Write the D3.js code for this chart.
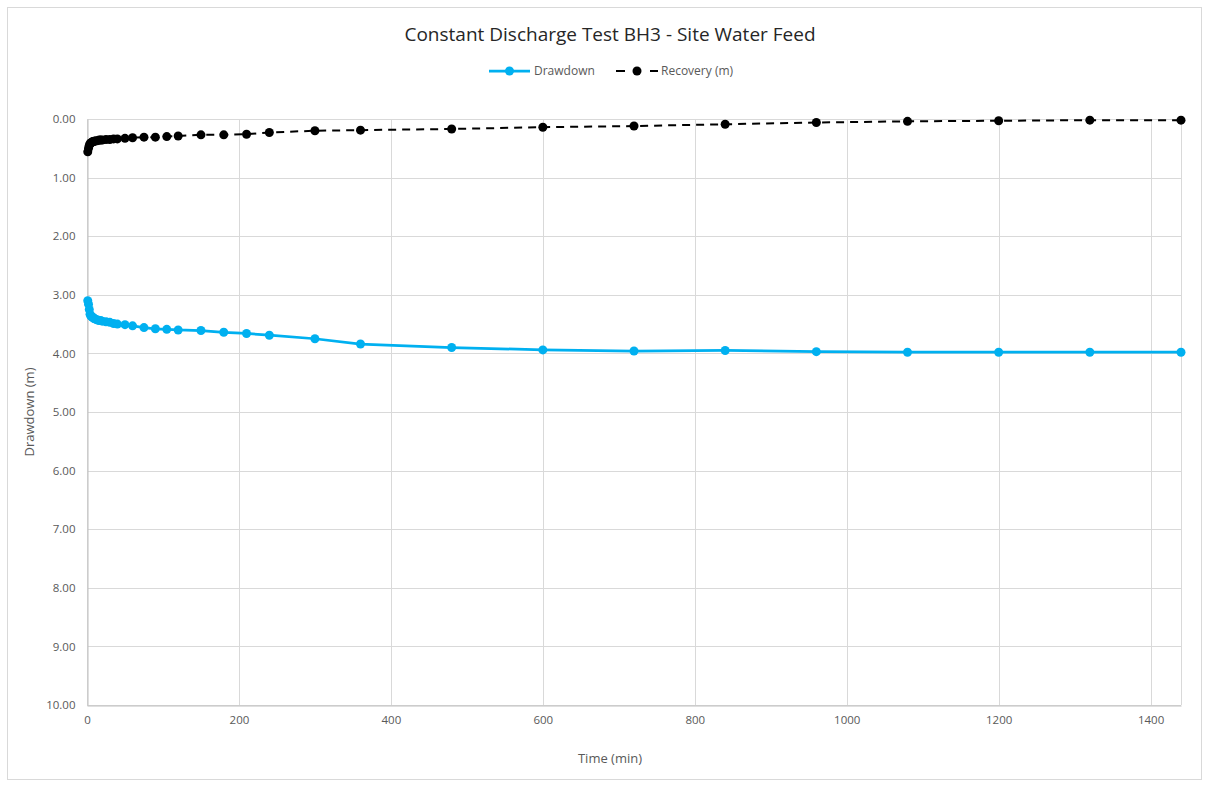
<!DOCTYPE html>
<html>
<head>
<meta charset="utf-8">
<script src="https://cdn.jsdelivr.net/npm/d3@7"></script>
<style>
  html, body { margin: 0; padding: 0; background: #fff; }
  svg { display: block; }
  text { font-family: "Open Sans", "Noto Sans", "Liberation Sans", sans-serif; }
</style>
</head>
<body>
<svg id="chart" width="1207" height="785"></svg>
<script>
// ---- data ----
const drawdownTime = [1, 2, 3, 4, 5, 6, 7, 8, 9, 10, 12, 14, 16, 18, 20, 25, 30, 35, 40, 50, 60, 75, 90, 105, 120, 150, 180, 210, 240, 300, 360, 480, 600, 720, 840, 960, 1080, 1200, 1320, 1440];
const drawdownValues = [3.10, 3.16, 3.25, 3.33, 3.36, 3.37, 3.38, 3.39, 3.40, 3.41, 3.42, 3.43, 3.44, 3.44, 3.45, 3.46, 3.47, 3.49, 3.50, 3.51, 3.53, 3.56, 3.58, 3.59, 3.60, 3.61, 3.64, 3.66, 3.69, 3.75, 3.84, 3.90, 3.94, 3.96, 3.95, 3.97, 3.98, 3.98, 3.98, 3.98];
const recoveryTime = [1, 2, 3, 4, 5, 6, 7, 8, 9, 10, 12, 14, 16, 18, 20, 25, 30, 35, 40, 50, 60, 75, 90, 105, 120, 150, 180, 210, 240, 300, 360, 480, 600, 720, 840, 960, 1080, 1200, 1320, 1440];
const recoveryValues = [0.56, 0.50, 0.45, 0.42, 0.41, 0.40, 0.39, 0.39, 0.38, 0.38, 0.37, 0.37, 0.36, 0.36, 0.36, 0.35, 0.35, 0.34, 0.34, 0.33, 0.32, 0.31, 0.31, 0.30, 0.29, 0.27, 0.27, 0.26, 0.23, 0.20, 0.19, 0.17, 0.14, 0.12, 0.09, 0.06, 0.04, 0.03, 0.02, 0.02];
const xTicks = [0, 200, 400, 600, 800, 1000, 1200, 1400];
const yTicks = [0, 1, 2, 3, 4, 5, 6, 7, 8, 9, 10];
const seriesNames = ["Drawdown", "Recovery (m)"];
const titleText = "Constant Discharge Test BH3 - Site Water Feed";
const xLabel = "Time (min)";
const yLabel = "Drawdown (m)";

// ---- layout ----
const svg = d3.select("#chart");
const W = 1207, H = 785;
const m = { left: 87, right: 1181, top: 119, bottom: 705 };
const blue = "#00B0F0";
const grid = "#d9d9d9";
const textCol = "#595959";

svg.append("rect").attr("x", 7.5).attr("y", 7.5).attr("width", W - 13).attr("height", H - 13)
  .attr("fill", "#fff").attr("stroke", grid).attr("stroke-width", 1);

const x = d3.scaleLinear().domain([0, 1440]).range([m.left, m.right]);
const y = d3.scaleLinear().domain([0, 10]).range([m.top, m.bottom]);

// gridlines
const g = svg.append("g");
g.selectAll(".hg").data(yTicks).enter().append("line")
  .attr("x1", m.left).attr("x2", m.right)
  .attr("y1", d => Math.round(y(d)) + 0.5).attr("y2", d => Math.round(y(d)) + 0.5)
  .attr("stroke", grid).attr("stroke-width", 1);
g.selectAll(".vg").data(xTicks.concat([1440])).enter().append("line")
  .attr("y1", m.top).attr("y2", m.bottom)
  .attr("x1", d => Math.round(x(d)) + 0.5).attr("x2", d => Math.round(x(d)) + 0.5)
  .attr("stroke", grid).attr("stroke-width", 1);

// axes
const xAxis = d3.axisBottom(x).tickValues(xTicks).tickSize(0).tickPadding(10).tickFormat(d3.format("d"));
const yAxis = d3.axisLeft(y).tickValues(yTicks).tickSize(0).tickPadding(12).tickFormat(d3.format(".2f"));
const gx = svg.append("g").attr("transform", `translate(0,${Math.round(y(10)) + 0.5})`).call(xAxis);
const gy = svg.append("g").attr("transform", `translate(${Math.round(x(0)) + 0.5},0)`).call(yAxis);
[gx, gy].forEach(a => {
  a.select(".domain").attr("stroke", "#bfbfbf").attr("stroke-width", 1);
  a.selectAll("text").attr("fill", textCol).style("font-size", "11.5px");
});

// lines
const ddData = drawdownTime.map((t, i) => [t, drawdownValues[i]]);
const rcData = recoveryTime.map((t, i) => [t, recoveryValues[i]]);
const line = d3.line().x(d => x(d[0])).y(d => y(d[1]));

svg.append("path").datum(ddData).attr("d", line).attr("fill", "none")
  .attr("stroke", blue).attr("stroke-width", 2.75).attr("stroke-linejoin", "round");
svg.append("g").selectAll("circle").data(ddData).enter().append("circle")
  .attr("cx", d => x(d[0])).attr("cy", d => y(d[1])).attr("r", 4.5).attr("fill", blue);

svg.append("path").datum(rcData).attr("d", line).attr("fill", "none")
  .attr("stroke", "#000").attr("stroke-width", 2).attr("stroke-dasharray", "8,6");
svg.append("g").selectAll("circle").data(rcData).enter().append("circle")
  .attr("cx", d => x(d[0])).attr("cy", d => y(d[1])).attr("r", 4.5).attr("fill", "#000");

// title
svg.append("text").attr("x", 610).attr("y", 41).attr("text-anchor", "middle")
  .attr("fill", "#262626").style("font-size", "19px").text(titleText);

// legend
const lg = svg.append("g").attr("transform", "translate(0,71)");
lg.append("line").attr("x1", 489).attr("x2", 530).attr("y1", 0).attr("y2", 0).attr("stroke", blue).attr("stroke-width", 2.75);
lg.append("circle").attr("cx", 509.5).attr("cy", 0).attr("r", 4.5).attr("fill", blue);
lg.append("text").attr("x", 534).attr("y", 4).attr("fill", textCol).style("font-size", "12px").text(seriesNames[0]);
lg.append("line").attr("x1", 616).attr("x2", 658).attr("y1", 0).attr("y2", 0).attr("stroke", "#000").attr("stroke-width", 2).attr("stroke-dasharray", "9,8,8");
lg.append("circle").attr("cx", 637).attr("cy", 0).attr("r", 4.5).attr("fill", "#000");
lg.append("text").attr("x", 661).attr("y", 4).attr("fill", textCol).style("font-size", "12px").text(seriesNames[1]);

// axis titles
svg.append("text").attr("x", 610).attr("y", 763).attr("text-anchor", "middle")
  .attr("fill", textCol).style("font-size", "13px").text(xLabel);
svg.append("text").attr("transform", "translate(34,412) rotate(-90)").attr("text-anchor", "middle")
  .attr("fill", textCol).style("font-size", "13px").text(yLabel);
</script>
</body>
</html>
